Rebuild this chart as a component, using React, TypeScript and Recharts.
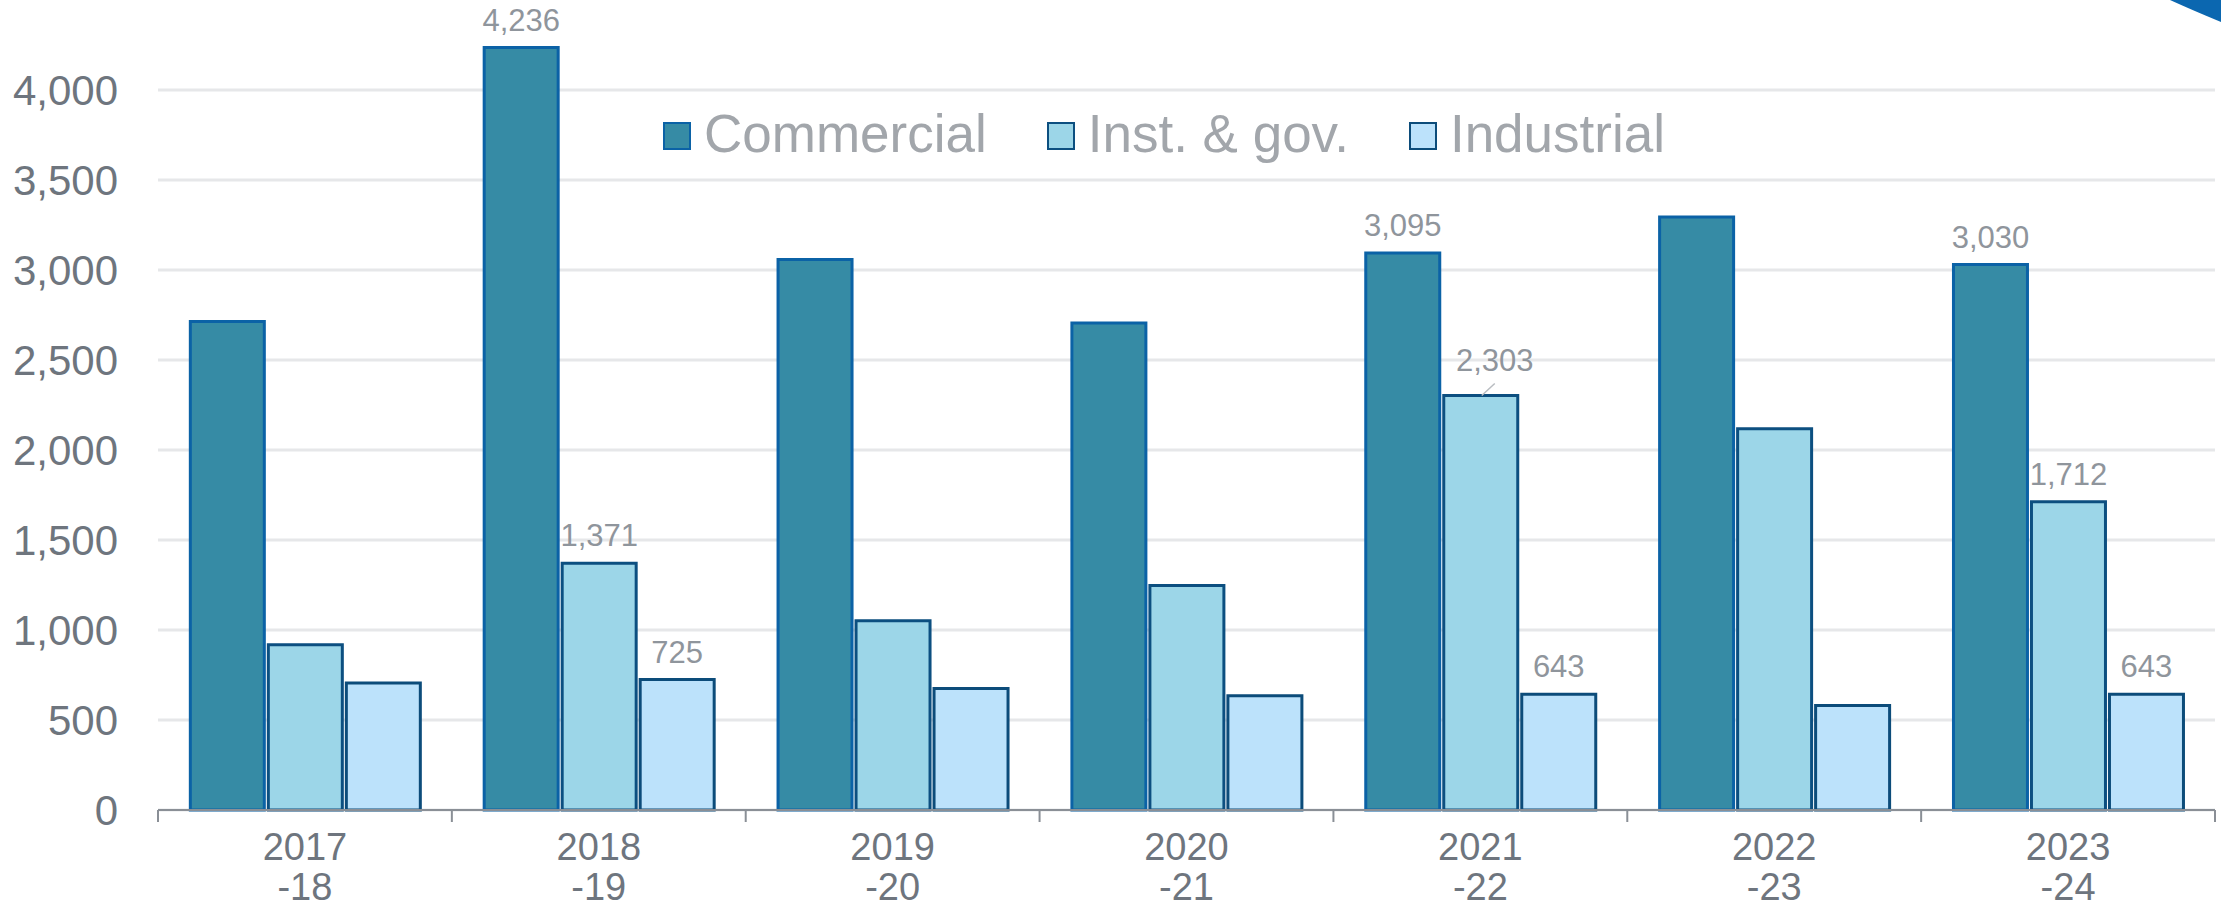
import { Bar, BarChart, CartesianGrid, LabelList, Legend, XAxis, YAxis } from "recharts";

const periods = ["2017-18", "2018-19", "2019-20", "2020-21", "2021-22", "2022-23", "2023-24"];
const commercial = [2714, 4236, 3059, 2706, 3095, 3294, 3030];
const instGov = [918, 1371, 1051, 1247, 2303, 2118, 1712];
const industrial = [706, 725, 675, 635, 643, 580, 643];
const labeledPeriods = ["2018-19", "2021-22", "2023-24"];
const yTicks = [0, 500, 1000, 1500, 2000, 2500, 3000, 3500, 4000];

const series = [
  { key: "commercial", name: "Commercial", fill: "#368BA5", stroke: "#0B62A6" },
  { key: "instGov", name: "Inst. & gov.", fill: "#9CD6E8", stroke: "#0C4F80" },
  { key: "industrial", name: "Industrial", fill: "#BCE2FB", stroke: "#0C4C7A" },
];

const data = periods.map((p, i) => ({
  period: p,
  commercial: commercial[i],
  instGov: instGov[i],
  industrial: industrial[i],
}));

const W = 2221;
const H = 908;
const M = { top: 0, right: 6, bottom: 0, left: 0 };
const Y_W = 158;
const X_H = 98;
const FONT = '"Liberation Sans", Arial, sans-serif';
const band = (W - M.left - M.right - Y_W) / periods.length;

function XTick(props: any) {
  const { x, y, payload, index } = props;
  const [a, b] = String(payload.value).split("-");
  const left = x - band / 2;
  return (
    <g>
      <line x1={left} y1={y} x2={left} y2={y + 12} stroke="#8A8F96" strokeWidth={2} />
      {index === periods.length - 1 && (
        <line x1={x + band / 2} y1={y} x2={x + band / 2} y2={y + 12} stroke="#8A8F96" strokeWidth={2} />
      )}
      <text x={x} y={y + 50} textAnchor="middle" fontSize={38} fill="#6E757E" fontFamily={FONT}>
        {a}
      </text>
      <text x={x} y={y + 90} textAnchor="middle" fontSize={38} fill="#6E757E" fontFamily={FONT}>
        -{b}
      </text>
    </g>
  );
}

const makeLabel = (key: string) => (props: any) => {
  const vb = props.viewBox ?? props;
  const { x, y, width } = vb;
  const p = periods[props.index];
  if (!labeledPeriods.includes(p)) return null;
  const cx = x + width / 2;
  const text = Number(props.value).toLocaleString("en-US");
  // the 2021-22 inst. & gov. label sits a little off to the right with a leader line
  if (key === "instGov" && p === "2021-22") {
    return (
      <g>
        <line x1={cx + 14} y1={y - 12} x2={cx + 1} y2={y} stroke="#B8BCC0" strokeWidth={1.5} />
        <text x={cx + 14} y={y - 24} textAnchor="middle" fontSize={31} fill="#8F959C" fontFamily={FONT}>
          {text}
        </text>
      </g>
    );
  }
  return (
    <text x={cx} y={y - 17} textAnchor="middle" fontSize={31} fill="#8F959C" fontFamily={FONT}>
      {text}
    </text>
  );
};

function LegendBox() {
  return (
    <div style={{ display: "flex", alignItems: "center", gap: 60, fontFamily: FONT, fontSize: 53, color: "#A2A6AB", lineHeight: "60px", whiteSpace: "nowrap" }}>
      {series.map((s) => (
        <div key={s.key} style={{ display: "flex", alignItems: "center", gap: 13 }}>
          <span style={{ display: "inline-block", width: 24, height: 24, background: s.fill, border: `2px solid ${s.stroke}`, marginTop: 4 }} />
          <span>{s.name}</span>
        </div>
      ))}
    </div>
  );
}

export default function App() {
  return (
    <div style={{ position: "absolute", left: 0, top: 0, width: W, height: H, background: "#fff", overflow: "hidden" }}>
      <BarChart width={W} height={H} data={data} margin={M} barCategoryGap="11%" barGap={4}>
        <CartesianGrid horizontal vertical={false} syncWithTicks stroke="#E6E7E9" strokeWidth={3} />
        <XAxis
          dataKey="period"
          height={X_H}
          tickLine={false}
          tickSize={0}
          tickMargin={0}
          axisLine={{ stroke: "#8A8F96", strokeWidth: 2 }}
          tick={<XTick />}
          interval={0}
        />
        <YAxis
          width={Y_W}
          domain={[0, 4500]}
          ticks={yTicks}
          axisLine={false}
          tickLine={false}
          tickSize={0}
          tickMargin={40}
          tickFormatter={(v: number) => v.toLocaleString("en-US")}
          tick={{ fontSize: 42, fill: "#6E757E", fontFamily: FONT }}
        />
        <Legend
          layout="horizontal"
          verticalAlign="middle"
          align="center"
          content={<LegendBox />}
          wrapperStyle={{ position: "absolute", top: 104, left: 663, width: "auto", height: "auto" }}
        />
        {series.map((s) => (
          <Bar
            key={s.key}
            dataKey={s.key}
            name={s.name}
            fill={s.fill}
            stroke={s.stroke}
            strokeWidth={3}
            isAnimationActive={false}
          >
            <LabelList dataKey={s.key} content={makeLabel(s.key)} />
          </Bar>
        ))}
      </BarChart>
      <svg width={W} height={H} style={{ position: "absolute", left: 0, top: 0, pointerEvents: "none" }}>
        <path d="M2170,0 L2221,0 L2221,22 Q2192,10 2170,0 Z" fill="#0B67B0" />
      </svg>
    </div>
  );
}
